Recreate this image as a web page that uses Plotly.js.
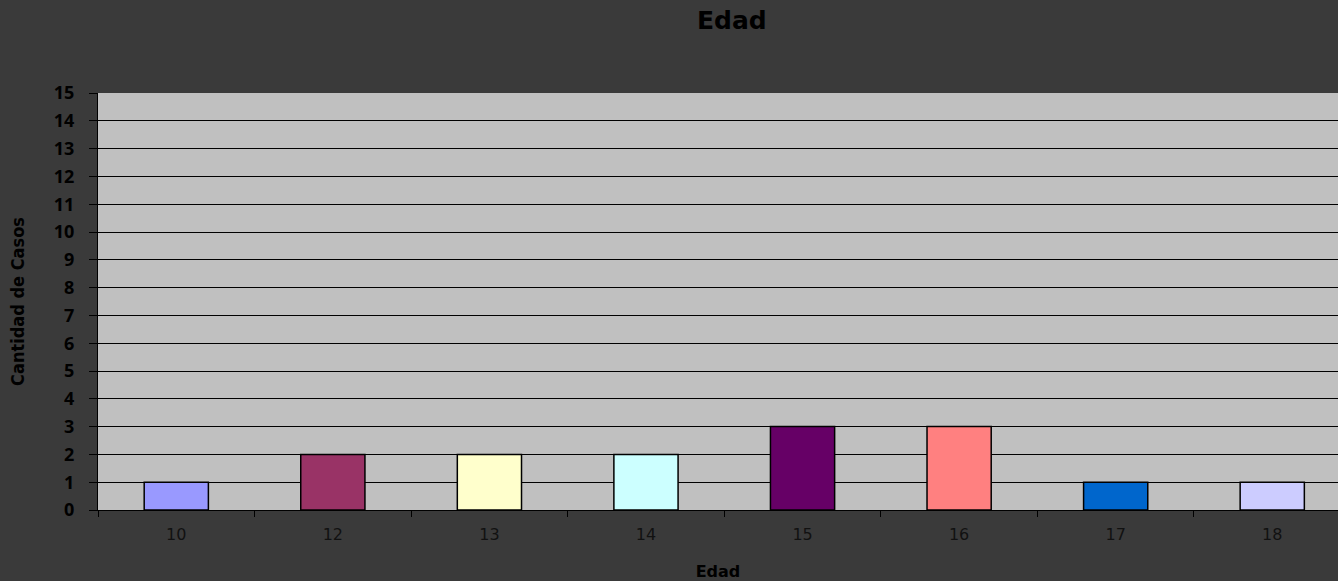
<!DOCTYPE html>
<html><head><meta charset="utf-8">
<script src="https://cdn.plot.ly/plotly-3.0.1.min.js"></script>
<style>html,body{margin:0;padding:0;background:#3a3a3a;overflow:hidden;}</style>
</head><body>
<div id="chart" style="width:1338px;height:581px;"></div>
<script>
const categories = ["10","12","13","14","15","16","17","18"];
const casos = [1, 2, 2, 2, 3, 3, 1, 1];
const barColors = ["#9999ff","#993366","#ffffcc","#ccffff","#660066","#ff8080","#0066cc","#ccccff"];
const yTicks = [0,1,2,3,4,5,6,7,8,9,10,11,12,13,14,15];

const trace = {
  type: "bar",
  x: categories,
  y: casos,
  width: 0.41,
  marker: {color: barColors, line: {color: "#000000", width: 1.5}},
  hoverinfo: "x+y"
};

const layout = {
  width: 1338, height: 581,
  paper_bgcolor: "#3a3a3a",
  plot_bgcolor: "#c0c0c0",
  margin: {l: 98, r: 0, t: 93, b: 71},
  showlegend: false,
  title: {text: "Edad", x: 0.547, xanchor: "center", y: 0.965, yanchor: "middle",
          font: {family: "DejaVu Sans", size: 25, color: "#000000", weight: "bold"}},
  xaxis: {
    type: "category",
    range: [-0.5, 7.42],
    tickson: "boundaries",
    ticks: "outside", ticklen: 6, tickcolor: "#000000", tickwidth: 1,
    showline: true, linecolor: "#000000", linewidth: 1,
    showgrid: false,
    tickfont: {family: "DejaVu Sans", size: 16, color: "#111111"},
    ticklabelstandoff: 10,
    title: {text: "Edad", standoff: 22, font: {family: "DejaVu Sans", size: 16, color: "#000000", weight: "bold"}}
  },
  yaxis: {
    range: [0, 15],
    tickvals: yTicks,
    ticktext: yTicks.map(String),
    ticks: "outside", ticklen: 8, tickcolor: "#000000", tickwidth: 1,
    showline: true, linecolor: "#000000", linewidth: 1,
    showgrid: true, gridcolor: "#000000", gridwidth: 1,
    zeroline: false,
    ticklabelstandoff: 11,
    tickfont: {family: "Open Sans", size: 18, color: "#000000", weight: "bold"},
    title: {text: "Cantidad de Casos", standoff: 24,
            font: {family: "Liberation Sans Narrow, DejaVu Sans Condensed", size: 18, color: "#000000", weight: "bold"}}
  }
};

Plotly.newPlot("chart", [trace], layout, {displayModeBar: false, staticPlot: true});
</script>
</body></html>
